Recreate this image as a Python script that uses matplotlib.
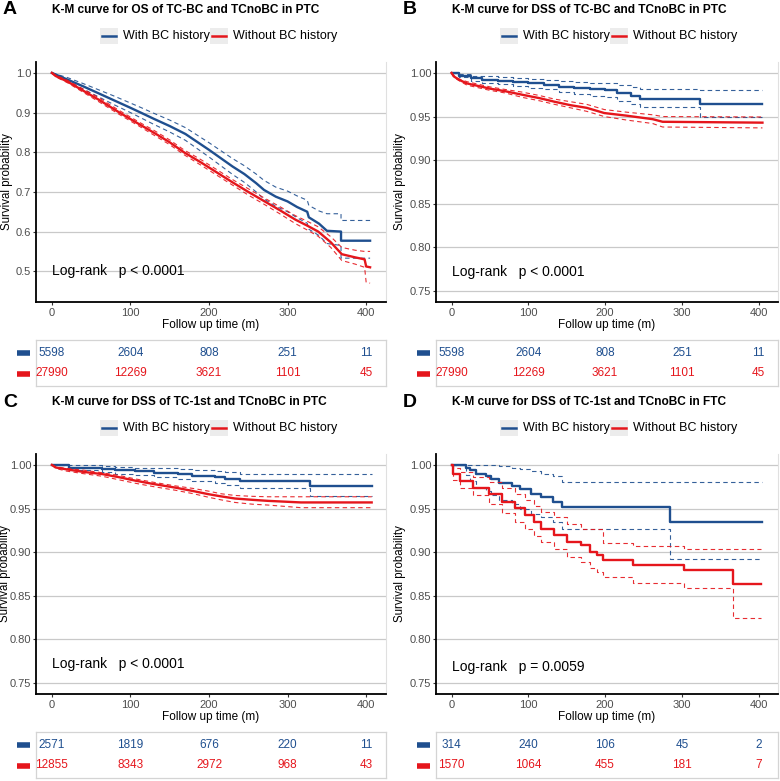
import numpy as np
import matplotlib
matplotlib.use('Agg')
import matplotlib.pyplot as plt
from matplotlib.patches import Rectangle
from matplotlib.lines import Line2D

plt.rcParams['font.family'] = ['Liberation Sans', 'DejaVu Sans']

BLUE = '#1f4f8f'
RED = '#e5161c'

# ---- panel A: OS, TC-BC vs TCnoBC in PTC ----
a_bc_t = [0, 20, 40, 60, 80, 100, 113, 130, 150, 170, 185, 200, 215, 230, 245, 260, 270, 285, 300, 312, 325, 327, 340, 350, 368, 368, 405]
a_bc_s = [1.0, 0.983, 0.966, 0.948, 0.930, 0.912, 0.900, 0.884, 0.866, 0.846, 0.826, 0.806, 0.785, 0.764, 0.745, 0.722, 0.705, 0.688, 0.676, 0.662, 0.650, 0.636, 0.620, 0.602, 0.600, 0.577, 0.577]
a_bc_hi = [1.0, 0.988, 0.973, 0.957, 0.941, 0.924, 0.913, 0.898, 0.881, 0.862, 0.843, 0.824, 0.804, 0.784, 0.766, 0.745, 0.729, 0.712, 0.702, 0.690, 0.679, 0.666, 0.652, 0.645, 0.645, 0.628, 0.628]
a_bc_lo = [1.0, 0.978, 0.959, 0.939, 0.919, 0.900, 0.887, 0.870, 0.851, 0.830, 0.809, 0.788, 0.766, 0.744, 0.724, 0.700, 0.682, 0.664, 0.650, 0.635, 0.621, 0.606, 0.590, 0.570, 0.565, 0.533, 0.533]
a_no_t = [0, 5, 20, 40, 60, 86, 110, 130, 150, 168, 190, 210, 230, 250, 270, 290, 310, 325, 339, 355, 369, 386, 398, 400, 405]
a_no_s = [1.0, 0.992, 0.978, 0.955, 0.932, 0.900, 0.872, 0.849, 0.825, 0.800, 0.774, 0.749, 0.724, 0.700, 0.677, 0.654, 0.630, 0.615, 0.600, 0.573, 0.543, 0.535, 0.530, 0.512, 0.510]
a_no_hi = [1.0, 0.994, 0.981, 0.959, 0.937, 0.905, 0.877, 0.855, 0.831, 0.806, 0.781, 0.756, 0.731, 0.708, 0.685, 0.663, 0.640, 0.626, 0.612, 0.587, 0.560, 0.553, 0.550, 0.550, 0.550]
a_no_lo = [1.0, 0.990, 0.975, 0.951, 0.927, 0.895, 0.867, 0.843, 0.819, 0.794, 0.767, 0.742, 0.717, 0.692, 0.669, 0.645, 0.620, 0.604, 0.588, 0.560, 0.527, 0.518, 0.510, 0.472, 0.470]
a_risk_bc = [5598, 2604, 808, 251, 11]
a_risk_no = [27990, 12269, 3621, 1101, 45]

# ---- panel B: DSS, TC-BC vs TCnoBC in PTC ----
b_bc_t = [0, 10, 25, 40, 60, 80, 100, 120, 140, 160, 180, 200, 215, 234, 245, 323, 405]
b_bc_s = [1.0, 0.997, 0.994, 0.992, 0.991, 0.990, 0.988, 0.986, 0.984, 0.983, 0.981, 0.980, 0.977, 0.974, 0.970, 0.9645, 0.9645]
b_bc_hi = [1.0, 0.999, 0.997, 0.996, 0.995, 0.994, 0.993, 0.992, 0.991, 0.990, 0.989, 0.988, 0.986, 0.984, 0.981, 0.980, 0.980]
b_bc_lo = [1.0, 0.995, 0.991, 0.988, 0.987, 0.985, 0.983, 0.981, 0.978, 0.976, 0.974, 0.972, 0.968, 0.964, 0.961, 0.950, 0.950]
b_no_t = [0, 3, 10, 20, 35, 50, 70, 92, 115, 134, 155, 176, 199, 228, 262, 275, 405]
b_no_s = [1.0, 0.996, 0.992, 0.988, 0.985, 0.982, 0.979, 0.975, 0.971, 0.967, 0.963, 0.960, 0.954, 0.951, 0.947, 0.944, 0.943]
b_no_hi = [1.0, 0.997, 0.993, 0.990, 0.987, 0.984, 0.981, 0.978, 0.974, 0.970, 0.967, 0.964, 0.958, 0.955, 0.952, 0.950, 0.9495]
b_no_lo = [1.0, 0.995, 0.991, 0.986, 0.983, 0.980, 0.977, 0.972, 0.968, 0.964, 0.960, 0.956, 0.950, 0.946, 0.942, 0.938, 0.937]
b_risk_bc = [5598, 2604, 808, 251, 11]
b_risk_no = [27990, 12269, 3621, 1101, 45]

# ---- panel C: DSS, TC-1st vs TCnoBC in PTC ----
c_bc_t = [0, 22, 64, 80, 106, 130, 161, 178, 207, 220, 240, 329, 407]
c_bc_s = [1.0, 0.997, 0.9955, 0.994, 0.9927, 0.991, 0.990, 0.9876, 0.9857, 0.984, 0.982, 0.9753, 0.9753]
c_bc_hi = [1.0, 1.0, 0.999, 0.998, 0.997, 0.996, 0.995, 0.994, 0.993, 0.992, 0.990, 0.990, 0.990]
c_bc_lo = [1.0, 0.994, 0.992, 0.990, 0.988, 0.986, 0.984, 0.981, 0.979, 0.977, 0.974, 0.964, 0.964]
c_no_t = [0, 5, 18, 40, 64, 85, 106, 130, 157, 180, 199, 215, 233, 255, 275, 317, 407]
c_no_s = [1.0, 0.997, 0.995, 0.992, 0.9895, 0.986, 0.982, 0.978, 0.974, 0.970, 0.9665, 0.964, 0.9615, 0.960, 0.9588, 0.957, 0.957]
c_no_hi = [1.0, 0.998, 0.996, 0.994, 0.991, 0.988, 0.984, 0.980, 0.976, 0.973, 0.970, 0.967, 0.965, 0.964, 0.9635, 0.9635, 0.9635]
c_no_lo = [1.0, 0.996, 0.993, 0.990, 0.987, 0.983, 0.979, 0.975, 0.971, 0.967, 0.963, 0.960, 0.957, 0.955, 0.954, 0.951, 0.951]
c_risk_bc = [2571, 1819, 676, 220, 11]
c_risk_no = [12855, 8343, 2972, 968, 43]

# ---- panel D: DSS, TC-1st vs TCnoBC in FTC ----
d_bc_t = [0, 19, 24, 32, 45, 52, 62, 79, 89, 104, 117, 132, 144, 285, 405]
d_bc_s = [1.0, 0.997, 0.994, 0.990, 0.9877, 0.984, 0.979, 0.976, 0.972, 0.967, 0.963, 0.958, 0.9515, 0.9346, 0.9346]
d_bc_hi = [1.0, 1.0, 1.0, 1.0, 1.0, 1.0, 0.999, 0.997, 0.995, 0.993, 0.990, 0.987, 0.980, 0.980, 0.980]
d_bc_lo = [1.0, 0.988, 0.981, 0.974, 0.970, 0.966, 0.960, 0.955, 0.950, 0.944, 0.940, 0.935, 0.927, 0.892, 0.892]
d_no_t = [0, 2, 11, 28, 49, 66, 83, 96, 108, 117, 134, 151, 168, 180, 189, 197, 236, 303, 367, 403]
d_no_s = [1.0, 0.9896, 0.982, 0.974, 0.9665, 0.958, 0.9508, 0.943, 0.935, 0.927, 0.920, 0.912, 0.908, 0.900, 0.897, 0.891, 0.885, 0.880, 0.8635, 0.8635]
d_no_hi = [1.0, 0.996, 0.992, 0.986, 0.980, 0.973, 0.967, 0.960, 0.953, 0.946, 0.940, 0.932, 0.926, 0.926, 0.926, 0.911, 0.907, 0.904, 0.904, 0.904]
d_no_lo = [1.0, 0.983, 0.974, 0.965, 0.955, 0.945, 0.935, 0.926, 0.918, 0.912, 0.904, 0.894, 0.889, 0.8815, 0.877, 0.872, 0.865, 0.8585, 0.825, 0.825]
d_risk_bc = [314, 240, 106, 45, 2]
d_risk_no = [1570, 1064, 455, 181, 7]

risk_times = [0, 100, 200, 300, 400]
legend_labels = ['With BC history', 'Without BC history']

W, H = 780, 781
fig = plt.figure(figsize=(W / 100, H / 100), dpi=100)


def rect(x0, y0, x1, y1):
    return [x0 / W, 1 - y1 / H, (x1 - x0) / W, (y1 - y0) / H]


def fpos(x, y):
    return x / W, 1 - y / H


def panel(letter, title, x0, x1, top, curves, ylim, yticks, yfmt, ptext, risk_bc, risk_no, ylab_x):
    # pixel layout for one panel (top = y of the title line)
    ax_top, ax_bot = top + 52, top + 292
    tb_top, tb_bot = top + 330, top + 376
    ax = fig.add_axes(rect(x0, ax_top, x1, ax_bot))
    for (t, s, hi, lo, col, ds) in curves:
        ax.plot(t, hi, color=col, lw=0.8, ls=(0, (4, 3)), drawstyle=ds, alpha=0.9)
        ax.plot(t, lo, color=col, lw=0.8, ls=(0, (4, 3)), drawstyle=ds, alpha=0.9)
        ax.plot(t, s, color=col, lw=1.7, drawstyle=ds)
    ax.set_xlim(-20.25, 425.25)
    ax.set_ylim(*ylim)
    ax.set_xticks(risk_times)
    ax.set_yticks(yticks)
    ax.set_yticklabels([yfmt.format(v) for v in yticks])
    ax.grid(axis='y', color='#c9c9c9', lw=0.9)
    ax.set_axisbelow(True)
    ax.spines['top'].set_visible(False)
    ax.spines['right'].set_color('#e0e0e0')
    ax.spines['left'].set_linewidth(1.3)
    ax.spines['bottom'].set_linewidth(1.3)
    ax.tick_params(labelsize=8, labelcolor='#4d4d4d', length=2, width=0.8, color='#333333', pad=2)
    ax.tick_params(axis='y', pad=1.5)
    ax.set_xlabel('Follow up time (m)', fontsize=8.5, labelpad=1)
    ax.set_ylabel('Survival probability', fontsize=8.3, va='center')
    ax.yaxis.set_label_coords((ylab_x - x0) / (x1 - x0), 0.5)
    ax.text(0, ptext[0], ptext[1], fontsize=10, ha='left', va='center')

    # title, panel letter
    fig.text(*fpos(x0 + 16, top), title, fontsize=8.6, fontweight='bold', ha='left', va='center')
    fig.text(*fpos(x0 - 33, top), letter, fontsize=14, fontweight='bold', ha='left', va='center')

    # legend with grey key backgrounds
    ly = top + 26
    lx = x0 + 64
    for lab, col in zip(legend_labels, [BLUE, RED]):
        fig.patches.append(Rectangle(fpos(lx, ly + 8), 18 / W, 16 / H, transform=fig.transFigure,
                                     facecolor='#ececec', edgecolor='none'))
        fig.lines.append(Line2D([(lx + 2) / W, (lx + 16) / W], [1 - ly / H] * 2,
                                transform=fig.transFigure, color=col, lw=1.8))
        fig.text(*fpos(lx + 23, ly), lab, fontsize=9, ha='left', va='center')
        lx += 23 + 87

    # risk table
    tb = fig.add_axes(rect(x0, tb_top, x1, tb_bot))
    tb.set_xlim(-20.25, 425.25)
    tb.set_ylim(0, 2)
    tb.set_xticks([])
    tb.set_yticks([])
    for sp in tb.spines.values():
        sp.set_color('#d4d4d4')
        sp.set_linewidth(0.9)
    for i, tt in enumerate(risk_times):
        tb.text(tt, 1.45, str(risk_bc[i]), color=BLUE, fontsize=8.5, ha='center', va='center')
        tb.text(tt, 0.55, str(risk_no[i]), color=RED, fontsize=8.5, ha='center', va='center')
    for yy, col in [(tb_top + 13, BLUE), (tb_top + 34, RED)]:
        fig.lines.append(Line2D([(x0 - 19) / W, (x0 - 6) / W], [1 - yy / H] * 2,
                                transform=fig.transFigure, color=col, lw=4, solid_capstyle='butt'))
    return ax


ticks2 = [0.75, 0.80, 0.85, 0.90, 0.95, 1.00]
panel('A', 'K-M curve for OS of TC-BC and TCnoBC in PTC', 36, 386, 10,
      [(a_bc_t, a_bc_s, a_bc_hi, a_bc_lo, BLUE, 'default'),
       (a_no_t, a_no_s, a_no_hi, a_no_lo, RED, 'default')],
      (0.4225, 1.0275), [0.5, 0.6, 0.7, 0.8, 0.9, 1.0], '{:.1f}',
      (0.5, 'Log-rank   p < 0.0001'), a_risk_bc, a_risk_no, 7)
panel('B', 'K-M curve for DSS of TC-BC and TCnoBC in PTC', 436, 778, 10,
      [(b_bc_t, b_bc_s, b_bc_hi, b_bc_lo, BLUE, 'steps-post'),
       (b_no_t, b_no_s, b_no_hi, b_no_lo, RED, 'default')],
      (0.7375, 1.0125), ticks2, '{:.2f}',
      (0.772, 'Log-rank   p < 0.0001'), b_risk_bc, b_risk_no, 400)
panel('C', 'K-M curve for DSS of TC-1st and TCnoBC in PTC', 36, 386, 402,
      [(c_bc_t, c_bc_s, c_bc_hi, c_bc_lo, BLUE, 'steps-post'),
       (c_no_t, c_no_s, c_no_hi, c_no_lo, RED, 'default')],
      (0.7375, 1.0125), ticks2, '{:.2f}',
      (0.772, 'Log-rank   p < 0.0001'), c_risk_bc, c_risk_no, 5)
panel('D', 'K-M curve for DSS of TC-1st and TCnoBC in FTC', 436, 778, 402,
      [(d_bc_t, d_bc_s, d_bc_hi, d_bc_lo, BLUE, 'steps-post'),
       (d_no_t, d_no_s, d_no_hi, d_no_lo, RED, 'steps-post')],
      (0.7375, 1.0125), ticks2, '{:.2f}',
      (0.768, 'Log-rank   p = 0.0059'), d_risk_bc, d_risk_no, 400)

fig.savefig('out.png', dpi=100)
